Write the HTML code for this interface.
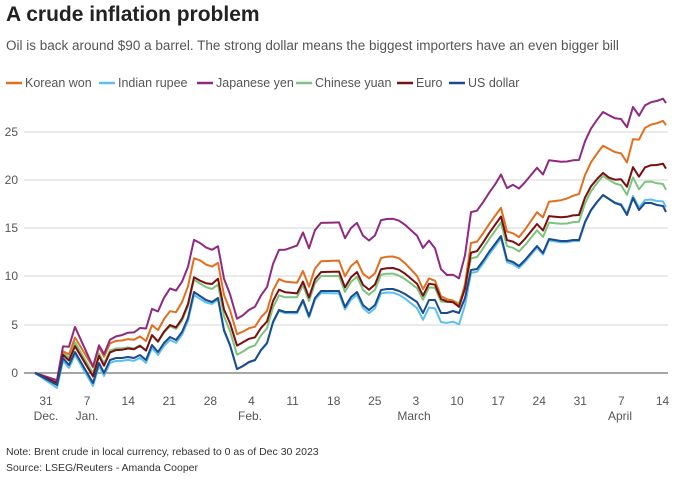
<!DOCTYPE html>
<html><head><meta charset="utf-8"><style>
body{margin:0;background:#fff;font-family:"Liberation Sans",sans-serif;}
</style></head><body>
<svg id="s" width="686" height="480" xmlns="http://www.w3.org/2000/svg" font-family="Liberation Sans, sans-serif">
<text x="6" y="21" font-size="21" font-weight="bold" fill="#222">A crude inflation problem</text>
<text x="6" y="50" font-size="13.5" fill="#555">Oil is back around $90 a barrel. The strong dollar means the biggest importers have an even bigger bill</text>
<g font-size="12.5" fill="#555">
<line x1="6" y1="83" x2="22" y2="83" stroke="#e07020" stroke-width="2.5"/><text x="25" y="87">Korean won</text>
<line x1="99" y1="83" x2="115" y2="83" stroke="#5bc0f0" stroke-width="2.5"/><text x="118" y="87">Indian rupee</text>
<line x1="197" y1="83" x2="213" y2="83" stroke="#8e2a80" stroke-width="2.5"/><text x="216" y="87">Japanese yen</text>
<line x1="296" y1="83" x2="312" y2="83" stroke="#7cc47c" stroke-width="2.5"/><text x="315" y="87">Chinese yuan</text>
<line x1="397" y1="83" x2="413" y2="83" stroke="#7a0e10" stroke-width="2.5"/><text x="416" y="87">Euro</text>
<line x1="449" y1="83" x2="465" y2="83" stroke="#1c4a8a" stroke-width="2.5"/><text x="468" y="87">US dollar</text>
</g>
<g stroke="#d6d6d6" stroke-width="1">
<line x1="24" y1="132" x2="668" y2="132"/><line x1="24" y1="180" x2="668" y2="180"/><line x1="24" y1="228" x2="668" y2="228"/><line x1="24" y1="276" x2="668" y2="276"/><line x1="24" y1="325" x2="668" y2="325"/>
</g>
<line x1="24" y1="373" x2="668" y2="373" stroke="#888" stroke-width="1.5"/>
<g font-size="12" fill="#555" text-anchor="end">
<text x="18" y="136">25</text><text x="18" y="184">20</text><text x="18" y="232">15</text><text x="18" y="280">10</text><text x="18" y="329">5</text><text x="18" y="377">0</text>
</g>
<g font-size="12" fill="#555" text-anchor="middle" id="xl"></g>
<g id="lines" fill="none" stroke-width="2" stroke-linejoin="round"></g>
<text x="6" y="455" font-size="10.5" fill="#333">Note: Brent crude in local currency, rebased to 0 as of Dec 30 2023</text>
<text x="6" y="471" font-size="10.5" fill="#333">Source: LSEG/Reuters - Amanda Cooper</text>
</svg>
<script>
var ns="http://www.w3.org/2000/svg";
var xl=document.getElementById("xl");
var labs=["31","7","14","21","28","4","11","18","25","3","10","17","24","31","7","14"];
labs.forEach(function(l,i){var t=document.createElementNS(ns,"text");t.setAttribute("x",46+i*41.1);t.setAttribute("y",405);t.textContent=l;xl.appendChild(t);});
[["Dec.",46],["Jan.",87],["Feb.",250],["March",414],["April",620]].forEach(function(m){var t=document.createElementNS(ns,"text");t.setAttribute("x",m[1]);t.setAttribute("y",420);t.textContent=m[0];xl.appendChild(t);});
var P=[[35,373],[57,385],[63,358],[69,365],[75,352],[93,383],[99,363],[104,373],[110,360],[116,358],[122,358],[128,357],[134,358],[140,355],[146,360],[152,345],[158,352],[164,343],[170,337],[176,340],[182,332],[188,318],[194,292],[200,296],[206,300],[212,302],[218,298],[224,330],[230,345],[237,369],[243,366],[249,362],[255,360],[261,350],[267,343],[273,322],[279,310],[285,312],[291,312],[297,312],[303,300],[309,316],[315,298],[321,291],[327,291],[333,291],[339,291],[345,307],[351,297],[357,292],[363,305],[369,310],[375,305],[381,290],[387,289],[393,289],[399,291],[405,294],[411,298],[417,302],[423,313],[429,300],[435,300],[441,313],[447,313],[453,311],[459,313],[465,298],[471,270],[477,269],[483,261],[489,252],[495,244],[501,236],[507,260],[513,262],[519,266],[525,260],[531,253],[537,246],[543,253],[549,239],[555,240],[561,241],[567,241],[573,240],[579,240],[585,222],[591,210],[597,202],[603,195],[609,199],[615,203],[621,205],[627,215],[633,198],[639,210],[645,203],[651,203],[657,205],[663,206],[666,212]];
var K=9.64;
function interp(kf,x){if(x<=kf[0][0])return kf[0][1];for(var i=1;i<kf.length;i++){if(x<=kf[i][0]){var a=kf[i-1],b=kf[i];return a[1]+(b[1]-a[1])*(x-a[0])/(b[0]-a[0]);}}return kf[kf.length-1][1];}
var S=[
["#7cc47c",[[35,0],[57,0.3],[75,1],[150,1],[200,1.3],[240,1.5],[400,1.6],[460,1],[470,1.2],[580,1.9],[610,2],[666,2.3]]],
["#5bc0f0",[[35,0],[57,-0.3],[200,-0.3],[240,0],[400,-0.4],[460,-1.2],[470,-0.3],[580,-0.1],[610,0],[666,0.5]]],
["#e07020",[[35,0],[57,0.3],[75,1.5],[150,2],[200,3.7],[240,3.6],[300,3],[400,3.4],[440,1.8],[462,0.6],[470,2.8],[520,3],[580,4.8],[610,5.2],[630,5.5],[640,7.5],[666,9]]],
["#8e2a80",[[35,0],[57,0.5],[75,2.6],[93,1.7],[140,2.8],[168,5],[200,5.5],[240,5.2],[267,5.8],[300,7],[400,7.3],[425,6.7],[445,4],[462,3.5],[470,6],[500,6.2],[510,8],[580,8.3],[610,8.7],[625,9],[666,11.3]]],
["#7a0e10",[[35,0],[57,0.2],[75,0.6],[150,1],[200,1.6],[240,2.5],[300,1.9],[400,2.2],[440,1.5],[462,0.5],[470,1.8],[580,2.6],[610,2.2],[640,3.5],[666,4.5]]],
["#1c4a8a",[[0,0]]]
];
var g=document.getElementById("lines");
S.forEach(function(s){var d="";P.forEach(function(p,i){var y=p[1]-interp(s[1],p[0])*K;d+=(i?"L":"M")+p[0]+","+y.toFixed(1);});var pa=document.createElementNS(ns,"path");pa.setAttribute("d",d);pa.setAttribute("stroke",s[0]);g.appendChild(pa);});
</script>
</body></html>
